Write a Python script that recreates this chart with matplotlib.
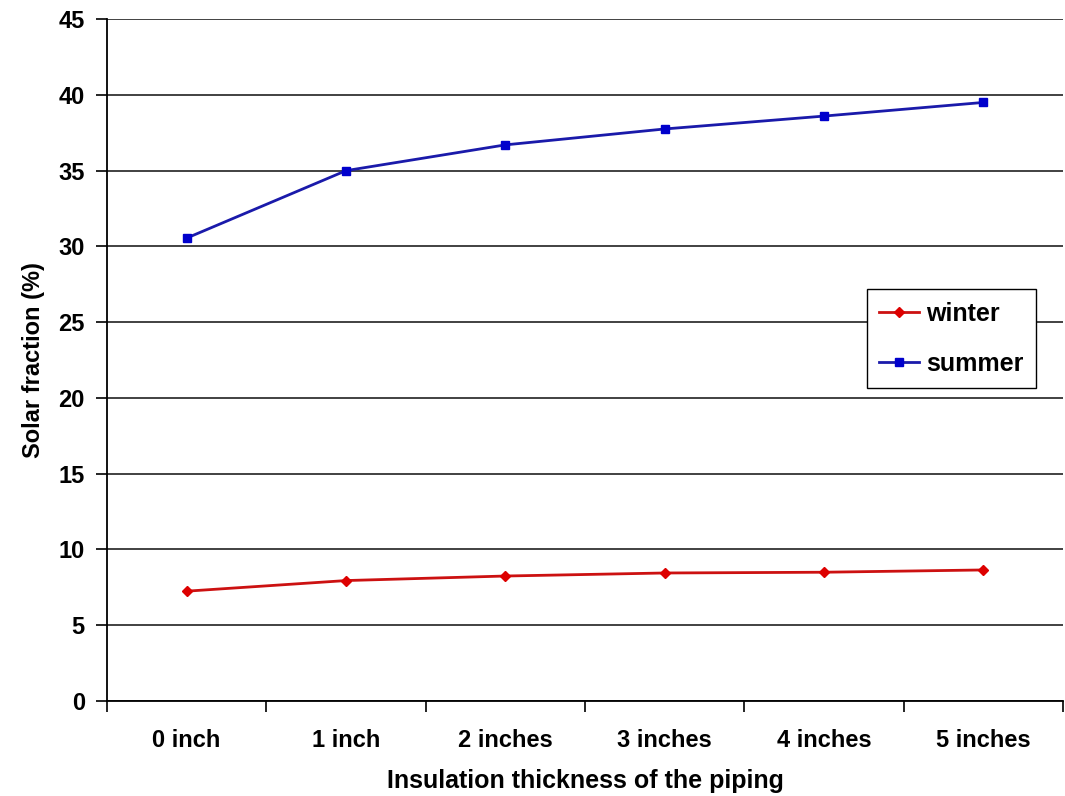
import matplotlib
matplotlib.use('Agg')
import matplotlib.pyplot as plt
import numpy as np

plt.rcParams['font.family'] = ['Liberation Sans', 'DejaVu Sans']
plt.rcParams['font.weight'] = 'bold'
plt.rcParams['axes.labelweight'] = 'bold'

# data
categories = ['0 inch', '1 inch', '2 inches', '3 inches', '4 inches', '5 inches']
winter = [7.25, 7.95, 8.25, 8.45, 8.5, 8.65]
summer = [30.55, 35.0, 36.7, 37.75, 38.6, 39.5]
y_ticks = [0, 5, 10, 15, 20, 25, 30, 35, 40, 45]

fig = plt.figure(figsize=(10.65, 7.96), dpi=100)
ax = fig.add_axes([0.1005, 0.1193, 0.8975, 0.8567])

x = np.arange(len(categories))
ax.plot(x, winter, color='#cc1111', lw=2, marker='D', ms=5,
        mfc='#dd0000', mec='#dd0000', label='winter')
ax.plot(x, summer, color='#1a1aaa', lw=2, marker='s', ms=6,
        mfc='#0000cc', mec='#0000cc', label='summer')

ax.set_xlim(-0.5, len(categories) - 0.5)
ax.set_ylim(0, 45)
ax.set_yticks(y_ticks)
ax.yaxis.grid(True, color='#333333', lw=1.3)
ax.set_axisbelow(True)

# category labels centred, tick marks between categories
ax.set_xticks(x)
ax.set_xticklabels(categories)
ax.set_xticks(np.arange(-0.5, len(categories)), minor=True)
ax.tick_params(axis='x', which='major', length=0, pad=20, labelsize=17)
ax.tick_params(axis='x', which='minor', length=8, width=1.2, direction='out')
ax.tick_params(axis='y', length=8, width=1.2, direction='out', labelsize=17, pad=8)

for s in ['top', 'right']:
    ax.spines[s].set_visible(False)
ax.spines['left'].set_linewidth(1.3)
ax.spines['bottom'].set_linewidth(1.3)

ax.set_xlabel('Insulation thickness of the piping', fontsize=18, labelpad=12.5)
ax.set_ylabel('Solar fraction (%)', fontsize=17, labelpad=10)

leg = ax.legend(loc='upper left', bbox_to_anchor=(0.795, 0.604), fontsize=18,
                frameon=True, fancybox=False, edgecolor='black', framealpha=1,
                handlelength=1.6, handletextpad=0.25, borderpad=0.5,
                labelspacing=1.05, borderaxespad=0)
leg.get_frame().set_linewidth(1.0)

fig.savefig('out.png', dpi=100)
